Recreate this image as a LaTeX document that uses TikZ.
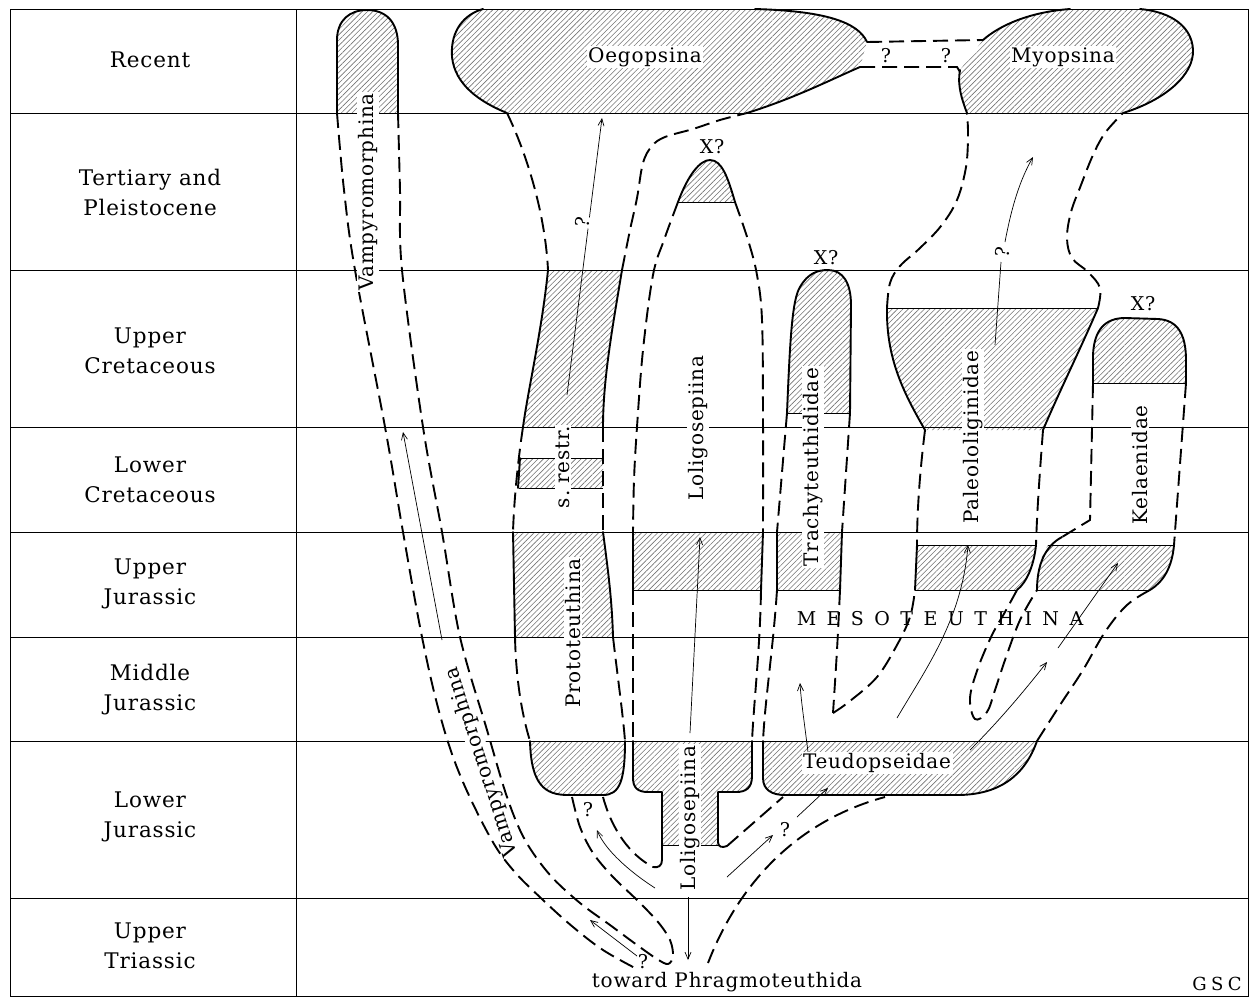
\documentclass[tikz,border=0pt]{standalone}
\usepackage{fontspec}
\setmainfont{DejaVu Serif}[LetterSpace=4]
\newfontfamily\spacedfont{DejaVu Serif}[LetterSpace=55]
\newfontfamily\gscfont{DejaVu Serif}[LetterSpace=25]
\usetikzlibrary{patterns.meta,arrows.meta}
\begin{document}
\begin{tikzpicture}[x=1pt,y=-1pt,
  hatch/.style={pattern={Lines[angle=45,distance=3.8pt,line width=0.6pt]},pattern color=black!55},
  bnd/.style={line width=1.9pt,line cap=round,line join=round},
  dsh/.style={line width=1.9pt,dash pattern=on 15pt off 7pt},
  rule/.style={line width=0.9pt},
  edgeln/.style={line width=0.7pt},
  arr/.style={line width=0.7pt,-{Straight Barb[length=7pt,width=6pt]}},
  lab/.style={fill=white,inner sep=1.5pt,font=\fontsize{20}{24}\selectfont},
  per/.style={align=center,font=\fontsize{21.5}{30}\selectfont},
  qm/.style={fill=white,inner sep=0.5pt,font=\fontsize{19}{22}\selectfont}
]
\useasboundingbox (0,0) rectangle (1252,997);

% ---------- hatched fills ----------
\fill[hatch] (337,113) -- (337,40) .. controls (337,20) and (350,10) .. (367,10) .. controls (386,10) and (398,22) .. (398,45) -- (398,113) -- cycle;
\fill[hatch] (507,113) .. controls (480,102) and (455,85) .. (452,57) .. controls (450,30) and (465,14) .. (483,9) -- (755,9) .. controls (825,11) and (858,22) .. (867,42) -- (860,67) .. controls (830,80) and (795,98) .. (747,113) -- cycle;
\fill[hatch] (983,40) .. controls (1000,25) and (1030,12) .. (1070,9) -- (1140,9) .. controls (1172,12) and (1192,27) .. (1193,50) .. controls (1194,75) and (1165,100) .. (1123,113) -- (967,113) .. controls (962,100) and (957,85) .. (960,70) -- cycle;
\fill[hatch] (548,270) -- (622,270) .. controls (612,330) and (603,380) .. (603,427) -- (523,427) .. controls (528,390) and (542,330) .. (548,270) -- cycle;
\fill[hatch] (519,458) rectangle (603,488);
\fill[hatch] (513,532) -- (603,532) .. controls (608,570) and (612,600) .. (613,637) -- (515,637) -- cycle;
\fill[hatch] (530,741) .. controls (531,785) and (545,795) .. (568,795) -- (603,795) .. controls (620,795) and (625,780) .. (625,741) -- cycle;
\fill[hatch] (678,202) .. controls (688,175) and (700,160) .. (710,160) .. controls (722,160) and (728,178) .. (735,202) -- cycle;
\fill[hatch] (633,532) rectangle (762,590);
\fill[hatch] (633,741) -- (752,741) -- (752,776) .. controls (752,788) and (746,792) .. (736,792) -- (718,792) -- (718,845) -- (662,845) -- (662,792) -- (648,792) .. controls (638,792) and (633,788) .. (633,778) -- cycle;
\fill[hatch] (787,413) .. controls (790,340) and (792,300) .. (800,287) .. controls (808,273) and (818,270) .. (828,270) .. controls (843,270) and (851,283) .. (851,305) -- (850,413) -- cycle;
\fill[hatch] (777,532) rectangle (841,590);
\fill[hatch] (887,308) -- (1098,308) .. controls (1080,350) and (1060,390) .. (1043,430) -- (925,430) .. controls (905,395) and (886,360) .. (887,308) -- cycle;
\fill[hatch] (917,545) -- (1036,545) .. controls (1034,565) and (1027,582) .. (1017,590) -- (915,590) -- cycle;
\fill[hatch] (1093,383) -- (1093,355) .. controls (1094,330) and (1105,318) .. (1125,318) -- (1158,319) .. controls (1178,320) and (1186,335) .. (1186,360) -- (1186,383) -- cycle;
\fill[hatch] (1048,545) -- (1174,545) .. controls (1172,568) and (1163,582) .. (1150,590) -- (1037,590) .. controls (1037,570) and (1041,555) .. (1048,545) -- cycle;
\fill[hatch] (763,741) -- (1037,741) .. controls (1025,775) and (1000,795) .. (957,795) -- (785,795) .. controls (772,795) and (763,790) .. (763,778) -- cycle;

% ---------- frame and time rows ----------
\draw[rule] (10,9) rectangle (1248,996);
\draw[rule] (296,9) -- (296,996);
\foreach \yy in {113,270,427,532,637,741,898} \draw[rule] (10,\yy) -- (1248,\yy);

\node[per] (p1) at (150,60) {Recent};
\node[per] (p2) at (150,192) {Tertiary and\\Pleistocene};
\node[per] (p3) at (150,351) {Upper\\Cretaceous};
\node[per] (p4) at (150,480) {Lower\\Cretaceous};
\node[per] (p5) at (150,584) {Upper\\Jurassic};
\node[per] (p6) at (150,690) {Middle\\Jurassic};
\node[per] (p7) at (150,817) {Lower\\Jurassic};
\node[per] (p8) at (150,946) {Upper\\Triassic};

% ---------- hatch edge lines ----------
\draw[edgeln] (519,458) -- (603,458) (519,488) -- (603,488);
\draw[edgeln] (678,202) -- (735,202);
\draw[edgeln] (633,590) -- (761,590);
\draw[edgeln] (662,845) -- (718,845);
\draw[edgeln] (787,413) -- (850,413);
\draw[edgeln] (777,590) -- (840,590);
\draw[edgeln] (887,308) -- (1098,308);
\draw[edgeln] (917,545) -- (1036,545) (915,590) -- (1017,590);
\draw[edgeln] (1093,383) -- (1186,383);
\draw[edgeln] (1048,545) -- (1174,545) (1037,590) -- (1150,590);

% ---------- Vampyromorphina ----------
\draw[bnd] (337,113) -- (337,40) .. controls (337,20) and (350,10) .. (367,10) .. controls (386,10) and (398,22) .. (398,45) -- (398,113);
\draw[dsh] plot[smooth,tension=0.6] coordinates {(337,113) (344,190) (355,270) (385,427) (403,532) (422,637) (440,715) (460,775) (490,837) (513,870) (543,900) (573,927) (603,950) (635,968)};
\draw[dsh] plot[smooth,tension=0.55] coordinates {(398,113) (400,190) (402,270) (423,427) (442,532) (460,637) (487,730) (507,797) (525,840) (550,875) (580,903) (610,925) (637,945) (657,959) (668,964) (673,956) (670,940) (658,922) (637,900) (613,877) (593,853) (580,827) (572,797)};

% ---------- Oegopsina / Myopsina ----------
\draw[bnd] (507,113) .. controls (480,102) and (455,85) .. (452,57) .. controls (450,30) and (465,14) .. (483,9);
\draw[bnd] (755,9) .. controls (825,11) and (858,22) .. (867,42);
\draw[bnd] (860,67) .. controls (830,80) and (795,98) .. (747,113);
\draw[dsh] (867,42) -- (983,40);
\draw[dsh] (860,67) -- (957,67) -- (960,72);
\draw[bnd] (983,40) .. controls (1000,25) and (1030,12) .. (1070,9);
\draw[bnd] (1140,9) .. controls (1172,12) and (1192,27) .. (1193,50) .. controls (1194,75) and (1165,100) .. (1123,113);
\draw[bnd] (960,70) .. controls (957,85) and (962,100) .. (967,113);

% ---------- Prototeuthina ----------
\draw[dsh] (507,113) .. controls (525,150) and (545,210) .. (548,270);
\draw[dsh] plot[smooth,tension=0.6] coordinates {(622,270) (630,230) (637,198) (643,163) (652,146) (665,137) (693,129) (720,120) (747,113)};
\draw[bnd] (548,270) .. controls (542,330) and (528,390) .. (523,427);
\draw[bnd] (622,270) .. controls (612,330) and (603,380) .. (603,427);
\draw[dsh] (523,427) .. controls (518,460) and (514,500) .. (513,532);
\draw[dsh] (603,427) -- (603,532);
\draw[bnd] (520,458) -- (518,488);
\draw[bnd] (513,532) -- (515,637);
\draw[bnd] (603,532) .. controls (608,570) and (612,600) .. (613,637);
\draw[dsh] (515,637) .. controls (516,680) and (522,715) .. (530,741);
\draw[dsh] (613,637) .. controls (618,680) and (623,715) .. (625,741);
\draw[bnd] (530,741) .. controls (531,785) and (545,795) .. (568,795) -- (603,795) .. controls (620,795) and (625,780) .. (625,741);
\draw[dsh] (603,797) .. controls (612,830) and (630,855) .. (653,867);

% ---------- Loligosepiina ----------
\draw[bnd] (678,202) .. controls (688,175) and (700,160) .. (710,160) .. controls (722,160) and (728,178) .. (735,202);
\draw[dsh] plot[smooth,tension=0.6] coordinates {(678,202) (664,240) (653,275) (643,350) (637,427) (634,480) (633,532)};
\draw[bnd] (633,532) -- (633,590);
\draw[dsh] (633,590) -- (633,741);
\draw[bnd] (633,741) -- (633,778) .. controls (633,788) and (638,792) .. (648,792) -- (662,792) -- (662,860) .. controls (662,866) and (658,868) .. (653,867);
\draw[dsh] plot[smooth,tension=0.6] coordinates {(735,202) (748,240) (757,275) (762,320) (763,417) (763,532)};
\draw[bnd] (763,532) -- (761,590);
\draw[dsh] (761,590) .. controls (760,650) and (754,700) .. (752,741);
\draw[bnd] (752,741) -- (752,776) .. controls (752,788) and (746,792) .. (736,792) -- (718,792) -- (718,842) .. controls (718,847) and (722,848) .. (727,846);
\draw[dsh] (727,846) -- (783,797);

% ---------- Trachyteuthididae / Teudopseidae ----------
\draw[bnd] (787,413) .. controls (790,340) and (792,300) .. (800,287) .. controls (808,273) and (818,270) .. (828,270) .. controls (843,270) and (851,283) .. (851,305) -- (850,413);
\draw[dsh] (787,413) -- (777,532);
\draw[bnd] (777,532) -- (777,590);
\draw[dsh] (777,590) .. controls (773,650) and (765,700) .. (763,741);
\draw[bnd] (763,741) -- (763,778) .. controls (763,790) and (772,795) .. (785,795) -- (957,795) .. controls (1000,795) and (1025,775) .. (1037,741);
\draw[dsh] (850,413) -- (842,532);
\draw[bnd] (842,532) -- (840,590);
\draw[dsh] plot[smooth,tension=0.6] coordinates {(840,590) (837,650) (833,713)};
\draw[dsh] plot[smooth,tension=0.6] coordinates {(833,713) (850,701) (877,677) (897,645) (910,617) (915,590)};
\draw[dsh] (708,963) .. controls (740,880) and (800,820) .. (885,797);

% ---------- Paleololiginidae ----------
\draw[bnd] (925,430) .. controls (905,395) and (886,360) .. (887,308);
\draw[bnd] (1098,308) .. controls (1080,350) and (1060,390) .. (1043,430);
\draw[dsh] plot[smooth,tension=0.6] coordinates {(887,308) (890,283) (900,266) (920,248) (941,226) (957,200) (966,167) (968,135) (967,113)};
\draw[dsh] plot[smooth,tension=0.6] coordinates {(1098,308) (1100,288) (1088,272) (1072,258) (1067,238) (1071,212) (1081,185) (1093,155) (1105,133) (1123,113)};
\draw[dsh] (925,430) .. controls (920,470) and (917,510) .. (917,545);
\draw[bnd] (917,545) -- (915,590);
\draw[dsh] (1043,430) .. controls (1040,470) and (1037,510) .. (1036,545);
\draw[bnd] (1036,545) .. controls (1034,565) and (1027,582) .. (1017,590);
\draw[dsh] plot[smooth,tension=0.6] coordinates {(1017,590) (1005,612) (992,635) (978,668) (970,698) (975,719) (987,712) (995,690) (1005,660) (1020,620) (1037,590)};

% ---------- Kelaenidae ----------
\draw[bnd] (1093,383) -- (1093,355) .. controls (1094,330) and (1105,318) .. (1125,318) -- (1158,319) .. controls (1178,320) and (1186,335) .. (1186,360) -- (1186,383);
\draw[dsh] (1093,383) -- (1090,520) -- (1062,537);
\draw[bnd] (1062,537) .. controls (1045,546) and (1037,565) .. (1037,590);
\draw[dsh] (1186,383) -- (1174,545);
\draw[bnd] (1174,545) .. controls (1172,568) and (1163,582) .. (1150,590);
\draw[dsh] plot[smooth,tension=0.6] coordinates {(1150,590) (1127,605) (1105,632) (1083,670) (1060,705) (1037,741)};

% ---------- arrows ----------
\draw[arr] (442,640) -- (403,432);
\draw[arr] (637,956) -- (590,920);
\draw[arr] (655,888) .. controls (630,872) and (605,850) .. (597,830);
\draw[arr] (688,897) -- (688,960);
\draw[arr] (690,733) -- (700,537);
\draw[arr] (567,395) -- (602,118);
\draw[arr] (727,877) -- (773,835);
\draw[arr] (797,817) -- (828,788);
\draw[arr] (808,752) .. controls (804,720) and (801,700) .. (800,683);
\draw[arr] (897,718) .. controls (925,670) and (962,620) .. (968,545);
\draw[arr] (970,750) .. controls (1000,720) and (1025,690) .. (1047,662);
\draw[arr] (1058,648) -- (1118,563);
\draw[edgeln] (995,345) -- (1001,262);
\draw[arr] (1005,242) .. controls (1012,205) and (1020,180) .. (1033,157);

% ---------- labels ----------
\node[lab] (oeg) at (645,57) {Oegopsina};
\node[lab] (myo) at (1063,57) {Myopsina};
\node[qm] (qa) at (886,56) {?};
\node[qm] (qb) at (946,56) {?};
\node[lab,rotate=90] (vam1) at (368,192) {Vampyromorphina};
\node[lab,rotate=108,inner sep=0pt] (vam2) at (482,762) {Vampyromorphina};
\node[lab,rotate=90] (pro) at (573,633) {Prototeuthina};
\node[lab,rotate=90] (sr) at (563,467) {s.\ restr.};
\node[lab,rotate=90] (lol1) at (698,428) {Loligosepiina};
\node[lab,rotate=90] (lol2) at (690,818) {Loligosepiina};
\node[lab,rotate=90] (tra) at (813,467) {Trachyteuthididae};
\node[lab,rotate=90] (pal) at (973,437) {Paleololiginidae};
\node[lab,rotate=90] (kel) at (1140,465) {Kelaenidae};
\node[lab] (teu) at (877,763) {Teudopseidae};
\node[font=\spacedfont\fontsize{19}{22}\selectfont] (meso) at (940,619) {MESOTEUTHINA};
\node[qm,fill=none] (x1) at (712,147) {X?};
\node[qm,fill=none] (x2) at (826,258) {X?};
\node[qm,fill=none] (x3) at (1143,304) {X?};
\node[qm,rotate=80] (qc) at (583,222) {?};
\node[qm,rotate=80] (qd) at (1003,252) {?};
\node[qm,fill=none] (qe) at (588,810) {?};
\node[qm,fill=none] (qf) at (785,830) {?};
\node[qm,fill=none] (qg) at (643,962) {?};
\node[font=\fontsize{20}{24}\selectfont] (tow) at (727,982) {toward Phragmoteuthida};
\node[font=\gscfont\fontsize{18}{20}\selectfont] (gsc) at (1217,984) {GSC};
\end{tikzpicture}
\end{document}
